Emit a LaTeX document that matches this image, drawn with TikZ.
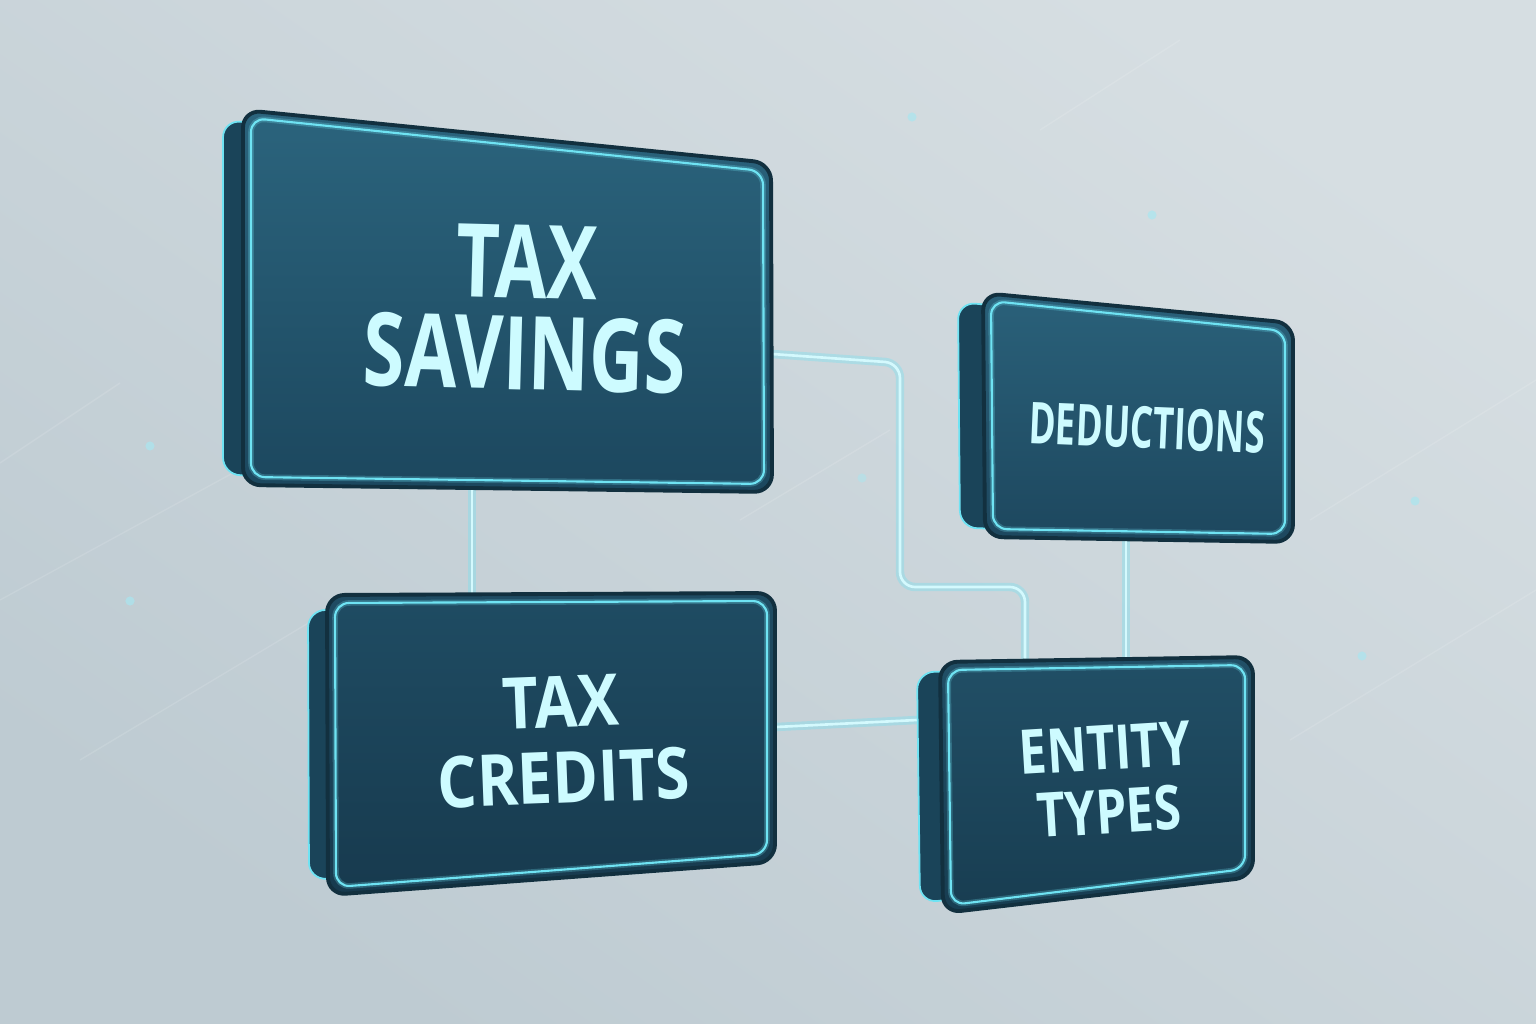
\documentclass[tikz,border=0pt]{standalone}
\usepackage{fontspec}
\newfontfamily\panelfont{Open Sans}[FakeStretch=0.74]
\newfontfamily\narrowfont{Open Sans}[FakeStretch=0.63]
\newfontfamily\widefont{Open Sans}[FakeStretch=0.87]
\newfontfamily\entityfont{Open Sans}[FakeStretch=0.80]
\usetikzlibrary{calc}

\definecolor{bgdark}{HTML}{BECBD2}
\definecolor{bglight}{HTML}{D6DEE2}
\definecolor{sidecol}{HTML}{1A4459}
\definecolor{rimcol}{HTML}{12303F}
\definecolor{glowcol}{HTML}{6FE3F3}
\definecolor{textcol}{HTML}{CDFBFF}
\definecolor{wirecol}{HTML}{D4F9FD}
\definecolor{dotcol}{HTML}{A9E6F0}
\definecolor{savtop}{HTML}{2B647D}
\definecolor{savbot}{HTML}{1C475E}
\definecolor{dedtop}{HTML}{2A617A}
\definecolor{dedbot}{HTML}{1D475E}
\definecolor{credtop}{HTML}{1F4C63}
\definecolor{credbot}{HTML}{173A4E}
\definecolor{enttop}{HTML}{214F66}
\definecolor{entbot}{HTML}{183D51}

\tikzset{
    wire/.style={draw=wirecol, line width=0.75pt, rounded corners=4.3pt,
        preaction={draw=glowcol, line width=2.4pt, opacity=0.35}},
    streak/.style={draw=white, line width=0.4pt, opacity=0.12},
    panel text/.style={text=textcol, align=center, inner sep=0pt}
}

% one raised panel: TL, TR, BR, BL, depth x, depth y, top colour, bottom colour
\newcommand{\panel}[8]{
    \draw[draw=glowcol, line width=0.5pt, fill=sidecol, rounded corners=5pt]
        ($#1+(#5,#6)$) -- ($#2+(#5,#6)$) -- ($#3+(#5,-#6)$) -- ($#4+(#5,-#6)$) -- cycle;
    \draw[draw=rimcol, line width=1.1pt, top color=#7, bottom color=#8, rounded corners=5pt]
        #1 -- #2 -- #3 -- #4 -- cycle;
    \draw[draw=glowcol, line width=0.6pt, rounded corners=4pt,
          preaction={draw=glowcol, line width=1.6pt, opacity=0.25}]
        ($#1+(8,8)$) -- ($#2+(-8,8)$) -- ($#3+(-8,-8)$) -- ($#4+(8,-8)$) -- cycle;
}

\begin{document}
\begin{tikzpicture}[x=0.01cm, y=-0.01cm]
    \useasboundingbox (0,0) rectangle (1536,1024);

    % background
    \shade[shading=axis, bottom color=bgdark, top color=bglight, shading angle=-35]
        (0,0) rectangle (1536,1024);
    \draw[streak] (0,463) -- (120,383);
    \draw[streak] (0,600) -- (330,420);
    \draw[streak] (80,760) -- (330,610);
    \draw[streak] (740,520) -- (890,430);
    \draw[streak] (1290,740) -- (1536,590);
    \draw[streak] (1310,520) -- (1536,380);
    \draw[streak] (1040,130) -- (1180,40);
    \fill[dotcol, opacity=0.7] (150,446) circle (1.3pt);
    \fill[dotcol, opacity=0.7] (130,601) circle (1.3pt);
    \fill[dotcol, opacity=0.7] (912,117) circle (1.3pt);
    \fill[dotcol, opacity=0.7] (1152,215) circle (1.3pt);
    \fill[dotcol, opacity=0.5] (862,478) circle (1.3pt);
    \fill[dotcol, opacity=0.7] (1415,501) circle (1.3pt);
    \fill[dotcol, opacity=0.7] (1362,656) circle (1.3pt);

    % connection points
    \coordinate (savings-e) at (772,354);
    \coordinate (savings-s) at (472,489);
    \coordinate (credits-n) at (472,594);
    \coordinate (credits-e) at (776,727);
    \coordinate (entity-w) at (917,720);
    \coordinate (entity-n1) at (1025,659);
    \coordinate (entity-n2) at (1126,657);
    \coordinate (deduct-s) at (1126,541);

    % connectors
    \draw[wire] (savings-e) -- (900,363) -- (900,587) -- (1025,587) -- (entity-n1);
    \draw[wire] (savings-s) -- (credits-n);
    \draw[wire] (credits-e) -- (entity-w);
    \draw[wire] (deduct-s) -- (entity-n2);

    % panels
    \panel{(243,110)}{(771,163)}{(772,492)}{(243,485)}{-20}{10}{savtop}{savbot}
    \panel{(983,293)}{(1293,323)}{(1293,542)}{(985,537)}{-25}{9}{dedtop}{dedbot}
    \panel{(327,595)}{(775,593)}{(775,862)}{(328,895)}{-19}{15}{credtop}{credbot}
    \panel{(940,662)}{(1253,657)}{(1253,877)}{(943,913)}{-23}{10}{enttop}{entbot}

    % labels
    \node[panel text, font=\panelfont\bfseries\fontsize{29}{26}\selectfont, rotate=-1.5] (savings) at (526,308) {TAX\\SAVINGS};
    \node[panel text, font=\narrowfont\bfseries\fontsize{16.4}{18}\selectfont, rotate=-2.4] (deduct) at (1147,428) {DEDUCTIONS};
    \node[panel text, font=\widefont\bfseries\fontsize{20.3}{21.6}\selectfont, rotate=2.2] (credits) at (562,740) {TAX\\CREDITS};
    \node[panel text, font=\entityfont\bfseries\fontsize{17.5}{18.2}\selectfont, rotate=3.5] (entity) at (1107,780) {ENTITY\\TYPES};
\end{tikzpicture}
\end{document}
